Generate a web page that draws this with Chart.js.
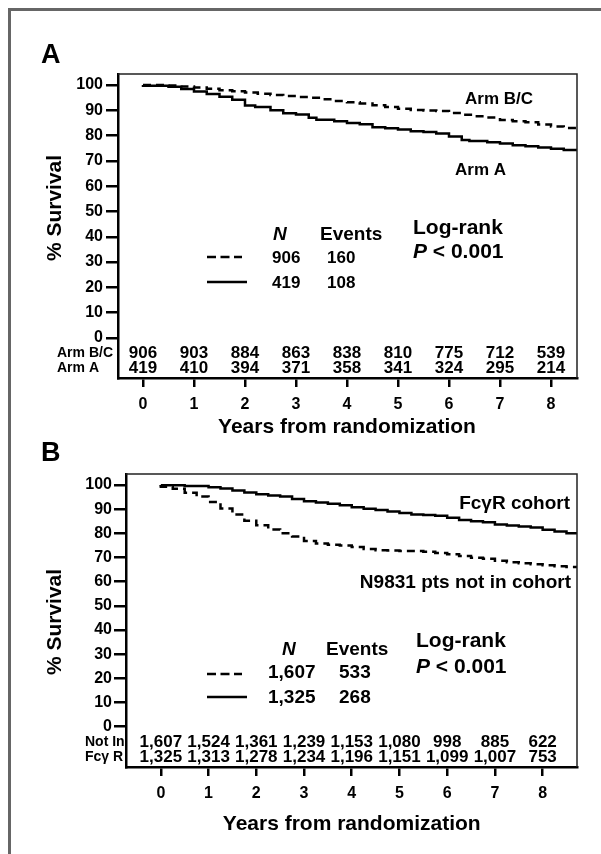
<!DOCTYPE html>
<html><head><meta charset="utf-8">
<script src="https://cdn.jsdelivr.net/npm/chart.js@4"></script>
<style>
html,body{margin:0;padding:0;background:#fff;}
body{width:601px;height:854px;position:relative;overflow:hidden;}
#frame{position:absolute;left:8px;top:8px;right:0;bottom:0;border-top:3px solid #666;border-left:3px solid #666;}
canvas{position:absolute;left:0;}
#cA{top:0;width:601px;height:440px;}
#cB{top:440px;width:601px;height:414px;}
</style></head><body>
<div id="frame"></div>
<canvas id="cA" width="601" height="440"></canvas>
<canvas id="cB" width="601" height="414"></canvas>
<script>
// ---------- data ----------
const years = [0, 1, 2, 3, 4, 5, 6, 7, 8];
const yTicks = [0, 10, 20, 30, 40, 50, 60, 70, 80, 90, 100];

// Panel A
const riskArmBC = [906, 903, 884, 863, 838, 810, 775, 712, 539];
const riskArmA  = [419, 410, 394, 371, 358, 341, 324, 295, 214];
const legendA_N = [906, 419];
const legendA_events = [160, 108];
const timeArmBC = [0,0.5,0.75,1.0,1.25,1.5,1.75,2.0,2.25,2.5,2.75,3.0,3.25,3.5,3.75,4.0,4.25,4.5,4.75,5.0,5.25,5.5,5.75,6.0,6.25,6.5,6.75,7.0,7.25,7.5,7.75,8.0,8.25,8.51];
const survArmBC = [100,100,99.8,99.4,99.0,98.5,97.9,97.5,97.0,96.5,96.0,95.6,95.2,94.9,94.3,93.6,93.1,92.6,92.0,91.3,90.6,90.1,89.9,89.7,88.9,88.2,87.6,87.1,86.1,85.6,85.2,84.3,83.6,83.0];
const timeArmA = [0,0.5,0.75,1.0,1.25,1.5,1.75,2.0,2.2,2.5,2.75,3.0,3.25,3.4,3.75,4.0,4.25,4.5,4.75,5.0,5.25,5.5,5.75,6.0,6.25,6.4,6.75,7.0,7.25,7.5,7.75,8.0,8.25,8.51];
const survArmA = [100,99.7,99.3,98.4,97.4,96.4,95.3,94.1,91.9,91.3,90.0,88.8,88.3,87.0,86.2,85.6,84.9,84.4,83.3,82.9,82.4,81.7,81.4,80.8,79.6,78.2,77.8,77.3,76.8,76.2,75.8,75.3,74.8,74.3];

// Panel B
const riskNotIn = [1607, 1524, 1361, 1239, 1153, 1080, 998, 885, 622];
const riskFcR   = [1325, 1313, 1278, 1234, 1196, 1151, 1099, 1007, 753];
const legendB_N = [1607, 1325];
const legendB_events = [533, 268];
const timeFcR = [0,0.5,1.0,1.25,1.5,1.75,2.0,2.25,2.5,2.75,3.0,3.25,3.5,3.75,4.0,4.25,4.5,4.75,5.0,5.25,5.5,5.75,6.0,6.25,6.5,6.75,7.0,7.25,7.5,7.75,8.0,8.25,8.5,8.72];
const survFcR = [100,99.9,99.6,99.1,98.5,97.7,96.9,96.2,95.7,95.2,94.2,93.3,92.8,92.2,91.6,90.8,90.2,89.7,89.0,88.4,87.8,87.6,87.3,86.4,85.5,85.0,84.6,83.7,83.2,82.8,82.4,81.5,80.8,80.0];
const timeNotIn = [0,0.25,0.5,0.75,1.0,1.25,1.5,1.75,2.0,2.25,2.5,2.75,3.0,3.25,3.5,3.75,4.0,4.25,4.5,4.75,5.0,5.5,5.75,6.0,6.25,6.5,6.75,7.0,7.25,7.5,7.75,8.0,8.25,8.5,8.72];
const survNotIn = [100,99.3,98.4,96.8,95.2,93.0,90.3,87.8,85.2,83.3,81.6,80.0,78.7,76.8,75.8,75.3,75.0,74.3,73.5,73.0,72.9,72.7,72.4,71.9,71.3,70.6,69.9,69.5,68.7,68.0,67.6,67.2,66.8,66.4,66.1];

// ---------- helpers ----------
const FAM = '"Liberation Sans", Arial, Helvetica, sans-serif';
const fmt = v => v.toLocaleString('en-US');
const pts = (t, s) => t.map((x, i) => ({x: x, y: s[i]}));

function text(ctx, s, x, y, font, align) {
  ctx.font = font + ' ' + FAM;
  ctx.textAlign = align || 'left';
  ctx.textBaseline = 'alphabetic';
  ctx.fillStyle = '#000';
  ctx.fillText(s, x, y);
}
function hline(ctx, x1, x2, y, dash) {
  ctx.save();
  ctx.strokeStyle = '#000'; ctx.lineWidth = 2.5;
  ctx.setLineDash(dash || []);
  ctx.beginPath(); ctx.moveTo(x1, y); ctx.lineTo(x2, y); ctx.stroke();
  ctx.restore();
}

function decor(cfg) {
  return {
    id: 'decor' + cfg.letter,
    afterDraw(chart) {
      const ctx = chart.ctx, ca = chart.chartArea, xs = chart.scales.x;
      ctx.save();
      // top and right of box
      ctx.strokeStyle = '#222'; ctx.lineWidth = 1.5;
      ctx.beginPath();
      ctx.moveTo(ca.left, ca.top); ctx.lineTo(ca.right, ca.top); ctx.lineTo(ca.right, ca.bottom);
      ctx.stroke();
      // panel letter
      text(ctx, cfg.letter, 41, cfg.letterY, 'bold 27px');
      // y title
      ctx.save();
      ctx.translate(55, cfg.yTitleY);
      ctx.rotate(-Math.PI / 2);
      ctx.font = 'bold 21px ' + FAM; ctx.textAlign = 'center'; ctx.textBaseline = 'middle';
      ctx.fillStyle = '#000';
      ctx.fillText('% Survival', 0, 0);
      ctx.restore();
      // x title
      text(ctx, 'Years from randomization', xs.getPixelForValue(4), cfg.xTitleY, 'bold 21px', 'center');
      // risk table
      text(ctx, cfg.riskLabels[0], cfg.riskLabelX, cfg.riskY[0] - 1, 'bold 14px');
      text(ctx, cfg.riskLabels[1], cfg.riskLabelX, cfg.riskY[1] - 1, 'bold 14px');
      cfg.riskRows.forEach((row, r) => {
        row.forEach((v, i) => {
          text(ctx, fmt(v), xs.getPixelForValue(years[i]), cfg.riskY[r], 'bold 17px', 'center');
        });
      });
      // curve labels
      cfg.labels.forEach(l => text(ctx, l.t, l.x, l.y, l.font, l.align));
      // legend
      const L = cfg.legend;
      text(ctx, 'N', L.nX, L.headY, 'bold italic 19px');
      text(ctx, 'Events', L.evX, L.headY, 'bold 19px');
      text(ctx, 'Log-rank', L.lrX, L.lrY, 'bold 21px');
      text(ctx, 'P', L.lrX, L.pY, 'bold italic 21px');
      ctx.font = 'bold italic 21px ' + FAM;
      const pw = ctx.measureText('P').width;
      text(ctx, ' < 0.001', L.lrX + pw, L.pY, 'bold 21px');
      hline(ctx, 207, 242, L.lineY[0], [9, 4.5]);
      hline(ctx, 207, 247, L.lineY[1]);
      for (let r = 0; r < 2; r++) {
        text(ctx, fmt(L.N[r]), L.numX, L.rowY[r], L.numFont);
        text(ctx, fmt(L.ev[r]), L.evNumX, L.rowY[r], L.numFont);
      }
      ctx.restore();
    }
  };
}

function makeChart(id, o) {
  return new Chart(document.getElementById(id), {
    type: 'line',
    data: { datasets: o.datasets.map(d => ({
      data: d.data, borderColor: '#000', borderWidth: 2.5, borderDash: d.dash || [],
      pointRadius: 0, fill: false, stepped: 'after', tension: 0
    })) },
    options: {
      responsive: false, devicePixelRatio: 1, animation: false,
      layout: { padding: { left: 0, top: o.top, right: 24, bottom: 0 } },
      plugins: { legend: { display: false }, tooltip: { enabled: false } },
      scales: {
        x: {
          type: 'linear', min: o.xmin, max: o.xmax,
          afterBuildTicks: s => { s.ticks = years.map(v => ({value: v})); },
          afterFit: s => { s.height = o.xh; },
          grid: { display: true, drawOnChartArea: false, drawTicks: true, tickLength: 9, tickWidth: 2.5, lineWidth: 2.5, tickColor: '#000', color: '#000' },
          border: { display: true, color: '#000', width: 2.5 },
          ticks: { color: '#000', padding: o.xpad, maxRotation: 0, font: { family: FAM, size: 16, weight: 'bold' } }
        },
        y: {
          type: 'linear', min: o.ymin, max: o.ymax,
          afterBuildTicks: s => { s.ticks = yTicks.map(v => ({value: v})); },
          afterFit: s => { s.width = o.yw; },
          grid: { display: true, drawOnChartArea: false, drawTicks: true, tickLength: 12, tickWidth: 2.5, lineWidth: 2.5, tickColor: '#000', color: '#000' },
          border: { display: true, color: '#000', width: 2.5 },
          ticks: { color: '#000', padding: o.ypad, font: { family: FAM, size: 16, weight: 'bold' } }
        }
      }
    },
    plugins: [o.plugin]
  });
}

// Panel A
makeChart('cA', {
  top: 74, xh: 62, yw: 118, xmin: -0.49, xmax: 8.51, ymin: -15.8, ymax: 104.3, xpad: 8, ypad: 3,
  datasets: [
    { data: pts(timeArmBC, survArmBC), dash: [8, 5] },
    { data: pts(timeArmA, survArmA) }
  ],
  plugin: decor({
    letter: 'A', letterY: 63, xTitleY: 433, yTitleY: 208,
    riskLabels: ['Arm B/C', 'Arm A'], riskLabelX: 57, riskY: [358, 373],
    riskRows: [riskArmBC, riskArmA],
    labels: [
      { t: 'Arm B/C', x: 465, y: 104, font: 'bold 17px' },
      { t: 'Arm A', x: 455, y: 175, font: 'bold 17px' }
    ],
    legend: { nX: 273, evX: 320, headY: 240, lrX: 413, lrY: 234, pY: 258,
      lineY: [257, 282], N: legendA_N, ev: legendA_events, numX: 272, evNumX: 327,
      rowY: [263, 288], numFont: 'bold 17px' }
  })
});

// Panel B
makeChart('cB', {
  top: 34, xh: 87, yw: 126, xmin: -0.73, xmax: 8.72, ymin: -16.7, ymax: 104.55, xpad: 8, ypad: 2,
  datasets: [
    { data: pts(timeNotIn, survNotIn), dash: [8, 5] },
    { data: pts(timeFcR, survFcR) }
  ],
  plugin: decor({
    letter: 'B', letterY: 21, xTitleY: 390, yTitleY: 182,
    riskLabels: ['Not In', 'Fc\u03B3 R'], riskLabelX: 85, riskY: [307, 322],
    riskRows: [riskNotIn, riskFcR],
    labels: [
      { t: 'Fc\u03B3R cohort', x: 570, y: 69, font: 'bold 19px', align: 'right' },
      { t: 'N9831 pts not in cohort', x: 571, y: 148, font: 'bold 19px', align: 'right' }
    ],
    legend: { nX: 282, evX: 326, headY: 215, lrX: 416, lrY: 207, pY: 233,
      lineY: [234, 257], N: legendB_N, ev: legendB_events, numX: 268, evNumX: 339,
      rowY: [238, 263], numFont: 'bold 19px' }
  })
});
</script></body></html>
